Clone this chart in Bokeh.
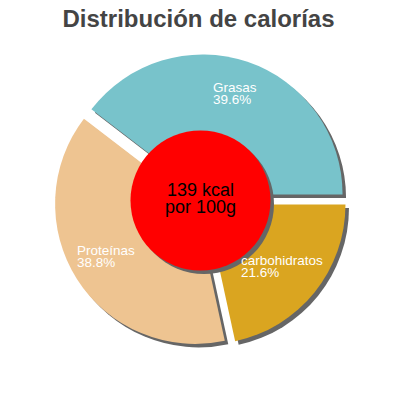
import math
from bokeh.plotting import figure
from bokeh.models import Range1d, ColumnDataSource
from bokeh.core.properties import value
from bokeh.embed import file_html
from bokeh.resources import INLINE

# ---- data ----
title_text = "Distribución de calorías"
categories = ["Grasas", "Proteínas", "carbohidratos"]
percentages = [39.6, 38.8, 21.6]
kcal_text = "139 kcal"
per_text = "por 100g"
colors = ["#78C3CB", "#EEC491", "#DAA520"]

# ---- layout constants (image pixel coordinates) ----
CX, CY = 200, 200
R = 140
EXPLODE = 6.4
SHADOW = 3.5
INNER_R = 70
TEXT_SHIFT = 7  # compensates text baseline rendering
label_pos = {  # left x, baseline y of first line (image coords)
    "Grasas": (212.5, 94),
    "Proteínas": (76.5, 256.5),
    "carbohidratos": (240.5, 267),
}
LINE_GAP = 12

def fy(y_img):
    return 400 - y_img

def ty(y_img):
    return 400 - y_img + TEXT_SHIFT

p = figure(width=392, height=392, x_range=Range1d(0, 392), y_range=Range1d(8, 400),
           output_backend="svg", toolbar_location=None, min_border=0)
p.axis.visible = False
p.grid.visible = False
p.outline_line_color = None
p.background_fill_color = "white"

# compute wedges
starts, ends, xs, ys = [], [], [], []
acc = 0.0
for pct in percentages:
    a0 = acc / 100 * 2 * math.pi
    acc += pct
    a1 = acc / 100 * 2 * math.pi
    mid = (a0 + a1) / 2
    starts.append(a0)
    ends.append(a1)
    xs.append(CX + EXPLODE * math.cos(mid))
    ys.append(fy(CY) + EXPLODE * math.sin(mid))

src = ColumnDataSource(dict(x=xs, y=ys, sx=[x + SHADOW for x in xs], sy=[y - SHADOW for y in ys],
                            start=starts, end=ends, color=colors))

p.wedge(x="sx", y="sy", radius=R, start_angle="start", end_angle="end", source=src,
        fill_color="#666666", line_color=None)
p.wedge(x="x", y="y", radius=R, start_angle="start", end_angle="end", source=src,
        fill_color="color", line_color=None)

# center circle
p.circle(x=[CX + SHADOW], y=[fy(CY) - SHADOW], radius=INNER_R, fill_color="#666666", line_color=None)
p.circle(x=[CX], y=[fy(CY)], radius=INNER_R, fill_color="#FF0000", line_color=None)

p.text(x=[CX, CX], y=[ty(196), ty(213)], text=[kcal_text, per_text],
       text_font=value("Liberation Sans"), text_font_size="18px", text_color="black",
       text_align="center", text_baseline="alphabetic")

# slice labels
lx, ly, lt = [], [], []
for cat, pct in zip(categories, percentages):
    x0, y0 = label_pos[cat]
    lx += [x0, x0]
    ly += [ty(y0), ty(y0 + LINE_GAP)]
    lt += [cat, f"{pct:.1f}%"]
p.text(x=lx, y=ly, text=lt, text_font=value("Liberation Sans"), text_font_size="13.5px",
       text_color="white", text_align="left", text_baseline="alphabetic")

# title
p.text(x=[198], y=[ty(25)], text=[title_text], text_font=value("Liberation Sans"),
       text_font_size="24px", text_font_style="bold", text_color="#444444",
       text_align="center", text_baseline="alphabetic")

open("out.html", "w").write(file_html(p, INLINE))
